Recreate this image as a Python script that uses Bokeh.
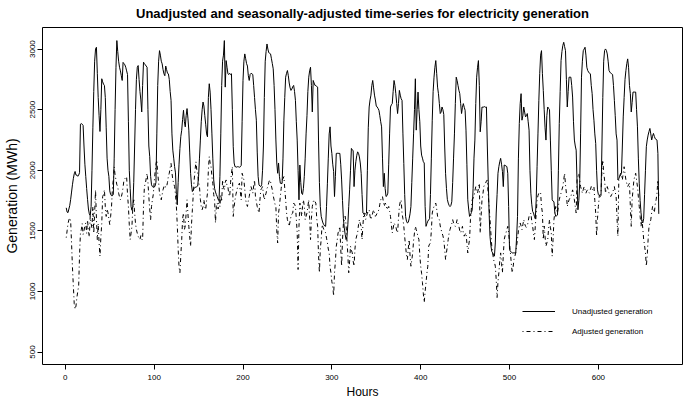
from bokeh.plotting import figure
from bokeh.models import Range1d, FixedTicker, Legend, LegendItem, ColumnDataSource
from bokeh.embed import file_html
from bokeh.resources import INLINE

title_text = "Unadjusted and seasonally-adjusted time-series for electricity generation"
x_label = "Hours"
y_label = "Generation (MWh)"
legend_labels = ["Unadjusted generation", "Adjusted generation"]
x_ticks = [0, 100, 200, 300, 400, 500, 600]
y_ticks = [500, 1000, 1500, 2000, 2500, 3000]

unadjusted = [
    1690,1655,1650,1680,1710,1760,1820,1880,1930,1970,1990,1960,1960,1950,1960,1980,2380,2385,2380,2370,2200,2050,1950,1850,
    1760,1680,1640,1625,1700,2000,2350,2650,2900,3000,3015,2800,2600,2450,2320,2500,2755,2730,2710,2700,2600,2350,2100,2000,
    1950,1830,1800,1790,1790,1800,2100,2500,2850,3070,2980,2900,2850,2820,2780,2741,2890,2880,2870,2850,2820,2790,2400,2000,
    1850,1700,1670,1700,1900,2200,2500,2750,2850,2864,2750,2650,2580,2481,2700,2892,2880,2870,2860,2850,2500,2200,2112,1950,
    1880,1865,1860,1860,1870,1900,2300,2700,2900,2987,2950,2900,2878,2830,2796,2780,2860,2830,2800,2796,2750,2650,2577,2300,
    2166,2100,2030,1978,1800,1715,1900,2050,2180,2280,2330,2420,2495,2400,2358,2450,2509,2430,2331,2150,1975,1880,1824,1840,
    1850,1860,1860,1865,1870,1950,2100,2249,2400,2500,2563,2530,2450,2380,2300,2276,2600,2714,2645,2500,2300,2100,1920,1850,
    1820,1800,1783,1760,1750,1950,2300,2700,2900,2950,3070,2686,2905,2850,2796,2790,2800,2790,2796,2500,2194,2060,2029,2029,
    2025,2030,2028,2025,2029,2040,2400,2741,2900,2960,2920,2880,2860,2780,2741,2790,2800,2796,2790,2700,2600,2500,2413,2150,
    1950,1879,1870,1865,1880,2000,2200,2600,2900,2980,3042,3000,2970,2965,2960,2920,2880,2837,2700,2500,2250,2060,1975,2060,
    1950,1893,1890,1893,2100,2413,2600,2768,2800,2823,2780,2720,2680,2659,2670,2690,2700,2650,2577,2400,2249,2000,1756,2043,
    1900,1811,1800,1850,1950,2100,2300,2450,2650,2768,2820,2850,2700,2481,2741,2720,2700,2700,2690,2686,2249,1900,1701,1620,
    1590,1565,1550,1540,1537,1700,1893,2100,2300,2358,2200,2139,2050,1990,1783,1950,2139,2140,2140,2139,2139,2050,1920,1750,
    1600,1524,1470,1428,1450,1550,1700,1838,2000,2180,2170,2160,1865,2000,2070,2120,2152,2140,2110,2060,1975,1800,1647,1640,
    1645,1640,1647,2000,2350,2522,2580,2620,2700,2741,2680,2620,2580,2530,2522,2510,2495,2450,2400,2358,2100,1865,1975,1850,
    1783,1790,1811,2050,2300,2522,2540,2550,2650,2741,2700,2632,2550,2468,2550,2659,2620,2590,2577,2300,2057,1800,1619,1580,
    1565,1570,1600,1640,1700,1900,2100,2300,2500,2755,2331,2500,2645,2500,2400,2200,2125,2100,2070,2060,1700,1537,1560,1580,
    1590,1600,1800,2100,2413,2650,2768,2850,2905,2800,2686,2632,2550,2468,2480,2522,2500,2460,2200,1975,1850,1760,1729,1710,
    1700,1710,1740,1900,2100,2300,2550,2768,2740,2700,2660,2632,2550,2468,2520,2550,2520,2495,2331,2050,1756,1680,1619,1630,
    1650,1673,1850,2100,2249,2550,2768,2850,2905,2700,2317,2400,2522,2520,2522,2525,2520,2522,2200,1920,1650,1455,1380,1330,
    1318,1300,1291,1400,1647,1800,1975,2030,2070,2098,2050,1990,1865,2043,2040,2035,2030,1975,1700,1346,1330,1325,1318,1318,
    1318,1318,1320,1450,1619,2100,2386,2550,2632,2413,2450,2522,2480,2440,2450,2468,2400,2331,2000,1811,1720,1660,1647,1620,
    1600,1750,2029,2300,2577,2800,2950,2987,2800,2659,2500,2350,2249,2450,2522,2510,2500,2249,2000,1756,1745,1740,1650,1619,
    1625,1630,2000,2386,2650,2905,2980,3030,3056,3020,2987,2750,2522,2650,2768,2768,2768,2700,2604,2400,2249,2200,2166,1900,
    1674,1750,1893,2300,2768,2900,2987,3000,3015,2950,2850,2823,2810,2800,2796,2700,2632,2500,2413,2300,2221,2000,1838,1800,
    1790,1783,1790,2200,2600,2900,2987,3001,2990,2960,2900,2823,2810,2800,2796,2790,2700,2577,2450,2300,2249,1920,1930,1950,
    1960,1975,2200,2440,2600,2750,2823,2880,2919,2850,2700,2632,2481,2560,2645,2645,2645,2645,2500,2358,2100,1893,1750,1650,
    1580,1565,1600,1800,2000,2194,2250,2290,2320,2345,2300,2250,2280,2304,2280,2260,2255,2249,2139,1640,
]

adjusted = [
    1444,1500,1560,1590,1608,1580,1400,1200,1050,900,853,880,950,1000,1044,1300,1480,1510,1560,1470,1500,1540,1565,1480,
    1590,1500,1450,1620,1560,1520,1701,1480,1650,1838,1600,1428,1560,1400,1291,1450,1560,1783,1800,1838,1700,1619,1680,1650,
    1600,1551,1620,1700,1850,1920,2029,1960,1920,1880,1865,1810,1780,1756,1780,1810,1860,1920,1930,1940,1947,1800,1701,1550,
    1428,1480,1540,1700,1756,1650,1560,1510,1480,1455,1440,1428,1460,1430,1428,1700,1865,1890,1930,1975,1900,1780,1680,1592,
    1700,1756,1800,1900,1980,2050,2084,1975,1900,1811,1780,1756,1800,1840,1865,1850,1870,1865,1900,1950,1975,2020,2057,1980,
    1920,1890,1865,1800,1701,1550,1350,1200,1154,1300,1428,1600,1647,1510,1540,1650,1756,1640,1537,1450,1373,1550,1674,1800,
    1920,2000,2070,2000,1975,1900,1865,1760,1701,1674,1700,1756,1700,1674,1750,1811,2000,2112,2060,2030,1950,1893,1800,1756,
    1565,1700,1730,1680,1760,1700,1800,1740,1920,1860,1840,1900,1920,1870,1865,1800,1783,1900,1975,2029,1619,1700,1756,1800,
    1830,1865,1880,1893,1820,1756,1975,1950,1920,1840,1756,1720,1701,1750,1783,1830,1865,1840,1811,1870,1920,1783,1740,1701,
    1670,1647,1750,1838,1850,1865,1800,1756,1790,1811,1850,1865,1900,1920,1906,1870,1838,1790,1756,1720,1701,1500,1400,1647,
    1700,1783,1850,1920,1930,1947,1850,1756,1650,1592,1560,1537,1580,1619,1640,1647,1729,1720,1701,1600,1483,1181,1537,1729,
    1680,1620,1700,1756,1700,1592,1620,1647,1700,1756,1600,1428,1600,1701,1740,1756,1740,1729,1600,1537,1300,1154,1350,1428,
    1551,1530,1510,1500,1483,1440,1400,1350,1318,1200,1154,1080,1044,962,1154,1250,1373,1420,1483,1500,1537,1350,1208,1428,
    1560,1592,1620,1550,1428,1300,1154,1250,1373,1340,1318,1250,1208,1350,1428,1460,1483,1550,1592,1560,1537,1428,1550,1647,
    1620,1592,1620,1647,1660,1674,1620,1592,1620,1647,1674,1650,1620,1630,1647,1660,1674,1720,1756,1770,1783,1740,1701,1729,
    1720,1674,1690,1701,1660,1619,1550,1483,1520,1565,1550,1537,1500,1483,1600,1701,1740,1756,1647,1600,1537,1450,1373,1300,
    1263,1350,1428,1300,1208,1260,1318,1420,1483,1537,1510,1483,1450,1428,1300,1208,1150,1072,980,908,1000,1072,1150,1208,
    1373,1390,1400,1500,1647,1680,1701,1720,1729,1680,1620,1600,1592,1540,1510,1483,1460,1428,1350,1263,1320,1373,1430,1483,
    1510,1537,1560,1592,1565,1550,1537,1560,1592,1560,1537,1500,1483,1510,1537,1480,1456,1470,1483,1400,1318,1380,1428,1592,
    1680,1756,1770,1783,1830,1865,1840,1811,1850,1893,1483,1620,1756,1800,1865,1880,1893,1910,1920,1800,1701,1600,1483,1373,
    1320,1263,1240,1208,1100,950,1080,1154,1250,1318,1230,1154,1300,1428,1460,1483,1510,1537,1483,1400,1318,1230,1154,1200,
    1263,1290,1318,1380,1428,1500,1537,1565,1540,1510,1550,1592,1560,1537,1530,1537,1580,1619,1630,1647,1580,1537,1480,1428,
    1537,1640,1756,1790,1811,1820,1811,1700,1650,1428,1540,1450,1373,1400,1428,1520,1592,1530,1483,1291,1428,1592,1650,1701,
    1670,1647,1700,1756,1790,1811,1840,1865,1920,1975,1880,1811,1701,1730,1756,1770,1783,1810,1838,1800,1756,1700,1647,1920,
    1950,1975,1920,1865,1840,1811,1840,1865,1840,1811,1830,1838,1820,1811,1840,1865,1838,1850,1865,1750,1647,1455,1600,1700,
    1783,1800,1811,2000,2084,1980,1920,1811,1840,1865,1840,1811,1790,1783,1800,1811,1840,1865,1820,1783,1600,1455,1920,1950,
    1975,1950,1920,1980,2029,1970,1920,1890,1865,1880,1893,1700,1537,1756,1840,1920,1950,1975,1920,1865,1780,1701,1620,1537,
    1592,1520,1428,1380,1318,1208,1300,1428,1537,1560,1592,1650,1701,1680,1650,1720,1756,1811,1920,1780,
]

hours = list(range(1, len(unadjusted) + 1))

source = ColumnDataSource(data=dict(hour=hours, unadj=unadjusted, adj=adjusted))

FONT = "Liberation Sans"

p = figure(
    width=685, height=401,
    output_backend="svg", toolbar_location=None,
    x_range=Range1d(-25.7, 694.7), y_range=Range1d(397, 3178),
    min_border_left=42, min_border_right=3, min_border_top=27, min_border_bottom=35,
    title=title_text,
)
p.background_fill_color = "white"
p.border_fill_color = "white"
p.outline_line_color = "black"
p.outline_line_width = 1
p.grid.visible = False

p.title.align = "center"
p.title.vertical_align = "top"
p.title.standoff = 10
p.title.text_font = FONT
p.title.text_font_size = "13px"
p.title.text_font_style = "bold"
p.title.text_color = "black"

for ax in (p.xaxis[0], p.yaxis[0]):
    ax.axis_line_color = None
    ax.major_tick_out = 5
    ax.major_tick_in = 0
    ax.major_tick_line_color = "black"
    ax.minor_tick_line_color = None
    ax.major_label_text_font = FONT
    ax.major_label_text_font_size = "8px"
    ax.major_label_text_color = "black"
    ax.axis_label_text_font = FONT
    ax.axis_label_text_font_style = "normal"
    ax.axis_label_text_color = "black"

p.xaxis.ticker = FixedTicker(ticks=x_ticks)
p.yaxis.ticker = FixedTicker(ticks=y_ticks)
p.xaxis.axis_label = x_label
p.yaxis.axis_label = y_label
p.xaxis.axis_label_text_font_size = "12px"
p.yaxis.axis_label_text_font_size = "14px"
p.xaxis.major_label_standoff = 5
p.xaxis.axis_label_standoff = 2
p.yaxis.major_label_standoff = 2
p.yaxis.axis_label_standoff = 8
p.yaxis.major_label_orientation = "parallel"

r1 = p.line(x="hour", y="unadj", source=source, line_color="black", line_width=1)
r2 = p.line(x="hour", y="adj", source=source, line_color="black", line_width=1, line_dash="1 3 4 3")

legend = Legend(
    items=[LegendItem(label=legend_labels[0], renderers=[r1]),
           LegendItem(label=legend_labels[1], renderers=[r2])],
    location=(480, 23),
    border_line_color=None, background_fill_alpha=0,
    padding=0, margin=0, spacing=0,
    glyph_width=33, glyph_height=20, label_height=20, label_standoff=17,
    label_text_font=FONT, label_text_font_size="8px", label_text_color="black",
)
p.add_layout(legend)

open("out.html", "w").write(file_html(p, INLINE))
